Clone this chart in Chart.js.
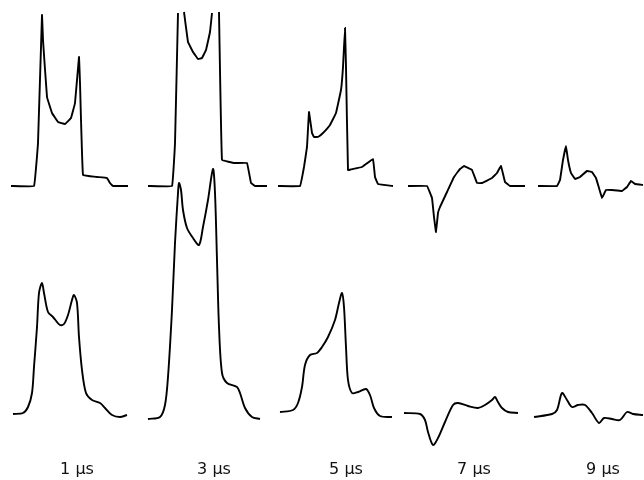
<!DOCTYPE html>
<html>
<head>
<meta charset="utf-8">
<script src="https://cdn.jsdelivr.net/npm/chart.js@4"></script>
<style>
  html, body { margin: 0; padding: 0; background: #fff; }
  #wrap { width: 644px; height: 480px; position: relative; }
</style>
</head>
<body>
<div id="wrap"><canvas id="chart1"></canvas></div>
<script>
// time labels under each column and where they sit on the x axis
var timeLabels = ['1 \u03bcs', '3 \u03bcs', '5 \u03bcs', '7 \u03bcs', '9 \u03bcs'];
var labelPos = [77, 214, 346, 474, 603];

// row baselines (value units, 1 unit = 1 px)
var topBase = 294;
var bottomBase = 67;

// upper row: [x, amplitude above baseline], null = trace runs off the top
var top1 = [[11,0],[34,0],[38,43],[42,171],[43,146],[47,89],[52,73],[58,64],[65,62],[71,68],[75,83],[79,129],[80,103],[83,11],[97,9],[107,8],[110,3],[113,0],[128,0]];
var top3 = [[148,0],[172,0],[175,43],[178,173],null,[184,174],[188,144],[193,134],[198,127],[202,128],[206,136],[210,154],[212,173],null,[219,174],[222,26],[235,23],[247,23],[251,3],[255,0],[267,0]];
var top5 = [[278,0],[300,0],[304,19],[307,39],[309,74],[312,53],[314,49],[318,49],[323,53],[330,61],[336,73],[341,96],[343,119],[345,158],[346,119],[348,16],[353,17],[362,19],[373,27],[375,9],[378,2],[393,0]];
var top7 = [[408,0],[427,0],[432,-12],[434,-31],[436,-46],[438,-27],[440,-21],[447,-6],[454,9],[460,17],[464,20],[472,16],[477,3],[482,3],[492,8],[497,13],[501,20],[505,4],[510,0],[525,0]];
var top9 = [[538,0],[557,0],[560,6],[563,26],[566,40],[568,26],[571,13],[575,7],[580,9],[587,15],[592,14],[596,8],[599,-2],[602,-12],[606,-4],[612,-4],[622,-5],[627,-1],[631,5],[635,2],[643,1]];

// lower row
var bot1 = [[13,-1],[23,0],[28,6],[32,20],[34,46],[37,86],[39,120],[42,130],[44,120],[48,101],[53,96],[60,88],[64,89],[68,98],[72,113],[74,118],[77,110],[79,76],[82,43],[86,20],[92,13],[100,10],[105,5],[112,-2],[120,-4],[127,-2]];
var bot3 = [[148,-6],[160,-4],[165,8],[168,36],[172,103],[175,170],[178,220],[179,230],[181,223],[183,203],[187,185],[193,175],[199,168],[203,186],[208,213],[213,244],[215,220],[217,153],[219,86],[222,40],[227,30],[237,26],[240,20],[245,5],[252,-4],[260,-6]];
var bot5 = [[280,1],[293,3],[298,10],[302,26],[305,48],[310,58],[317,60],[322,66],[328,76],[335,93],[339,110],[342,120],[344,106],[346,66],[348,33],[352,20],[358,21],[366,24],[370,18],[374,5],[380,-3],[392,-4]];
var bot7 = [[404,0],[420,-1],[425,-7],[428,-19],[433,-32],[438,-25],[445,-9],[453,8],[458,10],[468,7],[478,5],[485,8],[492,13],[495,16],[498,11],[502,5],[508,1],[518,0]];
var bot9 = [[534,-4],[552,-1],[557,3],[562,20],[567,13],[572,6],[578,8],[585,8],[592,0],[599,-10],[604,-5],[612,-6],[620,-7],[627,1],[633,-1],[643,-2]];

function trace(pts, base, tension) {
  return {
    data: pts.map(function (p) { return p ? { x: p[0], y: base + p[1] } : { x: null, y: null }; }),
    borderColor: '#000',
    borderWidth: 1.9,
    pointRadius: 0,
    tension: tension,
    spanGaps: false,
    fill: false
  };
}

var datasets = [top1, top3, top5, top7, top9].map(function (t) { return trace(t, topBase, 0.05); })
  .concat([bot1, bot3, bot5, bot7, bot9].map(function (t) { return trace(t, bottomBase, 0.3); }));

new Chart('chart1', {
  type: 'line',
  data: { datasets: datasets },
  options: {
    responsive: true,
    maintainAspectRatio: false,
    animation: false,
    layout: { padding: 0 },
    plugins: { legend: { display: false }, tooltip: { enabled: false } },
    scales: {
      x: {
        type: 'linear',
        min: 0,
        max: 644,
        grid: { display: false, drawTicks: false },
        border: { display: false },
        afterBuildTicks: function (scale) {
          scale.ticks = labelPos.map(function (v) { return { value: v }; });
        },
        afterFit: function (scale) { scale.height = 24; },
        ticks: {
          autoSkip: false,
          maxRotation: 0,
          padding: 4,
          color: '#111',
          font: { family: 'DejaVu Sans', size: 16 },
          callback: function (v, i) { return timeLabels[i]; }
        }
      },
      y: {
        display: false,
        min: 24,
        max: 480
      }
    }
  }
});
</script>
</body>
</html>
